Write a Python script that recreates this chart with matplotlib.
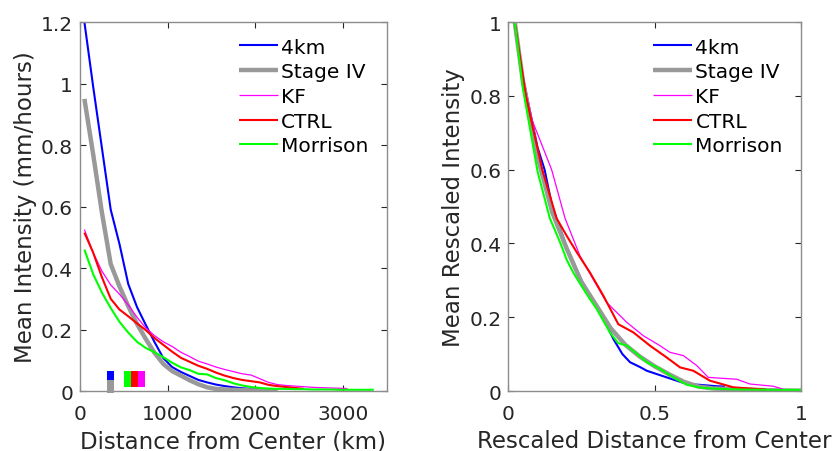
import matplotlib
matplotlib.use("Agg")
import matplotlib.pyplot as plt
from matplotlib.ticker import FuncFormatter

# ---------------- data: left panel (distance in km) ----------------
dist_km = [50, 150, 250, 350, 450, 550, 650, 750, 850, 950, 1050, 1150, 1250, 1350,
           1450, 1550, 1650, 1750, 1850, 1950, 2050, 2150, 2250, 2350, 2450, 2550,
           2650, 2750, 2850, 2950, 3050, 3150, 3250, 3350]

int_4km = [1.20, 0.99, 0.79, 0.59, 0.478, 0.348, 0.273, 0.215, 0.159, 0.107, 0.078,
           0.062, 0.049, 0.036, 0.028, 0.021, 0.016, 0.012, 0.009, 0.007, 0.006, 0.005, 0.004]
int_stage4 = [0.95, 0.77, 0.58, 0.413, 0.34, 0.276, 0.218, 0.169, 0.124, 0.088, 0.065,
              0.05, 0.035, 0.022, 0.012, 0.007, 0.005, 0.004, 0.003, 0.002, 0.002, 0.001, 0.001]
int_kf = [0.525, 0.45, 0.39, 0.345, 0.315, 0.28, 0.24, 0.205, 0.18, 0.16, 0.145, 0.126,
          0.112, 0.097, 0.088, 0.078, 0.070, 0.063, 0.056, 0.052, 0.040, 0.028, 0.021,
          0.018, 0.016, 0.014, 0.012, 0.011, 0.010, 0.009, 0.008]
int_ctrl = [0.515, 0.45, 0.37, 0.30, 0.265, 0.243, 0.22, 0.198, 0.172, 0.15, 0.128, 0.108,
            0.095, 0.082, 0.072, 0.060, 0.050, 0.042, 0.036, 0.032, 0.028, 0.020, 0.016,
            0.013, 0.010, 0.007]
int_morr = [0.46, 0.38, 0.32, 0.27, 0.225, 0.19, 0.16, 0.14, 0.126, 0.11, 0.092, 0.077,
            0.068, 0.056, 0.054, 0.042, 0.035, 0.025, 0.018, 0.013, 0.010, 0.008, 0.007,
            0.007, 0.006, 0.006, 0.005, 0.005, 0.005, 0.004, 0.004, 0.004, 0.004, 0.004]

# small colour markers near the x axis (km, intensity)
mark_x = [351, 351, 541, 621, 701]
mark_bottom = [0.037, -0.0065, 0.013, 0.013, 0.013]
mark_top = [0.065, 0.036, 0.065, 0.065, 0.065]
mark_colors = ["#0000ff", "#999999", "#00ff00", "#ff0000", "#ff00ff"]
mark_width = 80

# ---------------- data: right panel (rescaled) ----------------
r_4km_x = [0.022, 0.05, 0.1, 0.124, 0.15, 0.2, 0.25, 0.3, 0.33, 0.359, 0.39, 0.416, 0.45,
           0.473, 0.541, 0.61, 0.65, 0.712, 0.74]
r_4km_y = [1.0, 0.85, 0.66, 0.6, 0.5, 0.39, 0.3, 0.235, 0.19, 0.141, 0.1, 0.078, 0.065,
           0.055, 0.037, 0.019, 0.017, 0.013, 0.012]
r_st4_x = [0.022, 0.05, 0.1, 0.15, 0.2, 0.25, 0.3, 0.35, 0.4, 0.45, 0.5, 0.55, 0.6, 0.65,
           0.7, 0.8, 0.9, 1.0]
r_st4_y = [1.0, 0.84, 0.635, 0.485, 0.385, 0.295, 0.233, 0.17, 0.125, 0.093, 0.067, 0.045,
           0.025, 0.012, 0.007, 0.004, 0.002, 0.001]
r_kf_x = [0.022, 0.05, 0.08, 0.148, 0.194, 0.245, 0.29, 0.336, 0.405, 0.461, 0.518, 0.552,
          0.598, 0.644, 0.683, 0.72, 0.78, 0.826, 0.905, 0.94]
r_kf_y = [1.0, 0.84, 0.737, 0.6, 0.468, 0.366, 0.303, 0.24, 0.186, 0.15, 0.123, 0.105,
          0.096, 0.069, 0.037, 0.035, 0.032, 0.019, 0.013, 0.005]
r_ctrl_x = [0.022, 0.06, 0.116, 0.165, 0.2, 0.234, 0.279, 0.325, 0.376, 0.427, 0.484, 0.541,
            0.587, 0.632, 0.689, 0.769, 0.86, 0.88]
r_ctrl_y = [1.0, 0.8, 0.6, 0.468, 0.42, 0.376, 0.321, 0.258, 0.181, 0.159, 0.123, 0.091,
            0.064, 0.055, 0.028, 0.010, 0.005, 0.004]
r_morr_x = [0.022, 0.05, 0.1, 0.142, 0.177, 0.2, 0.222, 0.25, 0.279, 0.3, 0.347, 0.375,
            0.405, 0.44, 0.473, 0.518, 0.564, 0.61, 0.65, 0.689, 0.75, 0.8, 0.9, 1.0]
r_morr_y = [1.0, 0.82, 0.595, 0.468, 0.403, 0.355, 0.321, 0.285, 0.249, 0.225, 0.159, 0.13,
            0.123, 0.1, 0.078, 0.06, 0.037, 0.017, 0.010, 0.007, 0.005, 0.004, 0.003, 0.003]

labels = ["4km", "Stage IV", "KF", "CTRL", "Morrison"]
colors = ["#0000ff", "#999999", "#ff00ff", "#ff0000", "#00ff00"]
widths = [1.5, 3.2, 0.9, 1.5, 1.5]

plt.rcParams['font.family'] = ['DejaVu Sans']
FS = 14.5
FL = 16.5
TXT = "#262626"
SP = "#8c8c8c"

fig = plt.figure(figsize=(8.36, 4.52), dpi=100)
axL = fig.add_axes([0.0957, 0.1327, 0.3672, 0.8164])
axR = fig.add_axes([0.608, 0.1327, 0.3501, 0.8164])

left_series = [int_4km, int_stage4, int_kf, int_ctrl, int_morr]
for y, lab, c, w in zip(left_series, labels, colors, widths):
    axL.plot(dist_km[:len(y)], y, color=c, lw=w, label=lab, solid_capstyle='butt')

for xm, b, t, c in zip(mark_x, mark_bottom, mark_top, mark_colors):
    axL.bar(xm, t - b, bottom=b, width=mark_width, color=c, linewidth=0,
            clip_on=False, zorder=5)

right_series = [(r_4km_x, r_4km_y), (r_st4_x, r_st4_y), (r_kf_x, r_kf_y),
                (r_ctrl_x, r_ctrl_y), (r_morr_x, r_morr_y)]
for (x, y), lab, c, w in zip(right_series, labels, colors, widths):
    axR.plot(x, y, color=c, lw=w, label=lab, solid_capstyle='butt')

fmt = FuncFormatter(lambda v, p: ("%g" % round(v, 6)))

axL.set_xlim(0, 3500)
axL.set_ylim(0, 1.2)
axL.set_xticks([0, 1000, 2000, 3000])
axL.set_yticks([0, 0.2, 0.4, 0.6, 0.8, 1.0, 1.2])
axL.set_xlabel("Distance from Center (km)", fontsize=FL, color=TXT, labelpad=5)
axL.set_ylabel("Mean Intensity (mm/hours)", fontsize=FL, color=TXT, labelpad=3)

axR.set_xlim(0, 1)
axR.set_ylim(0, 1)
axR.set_xticks([0, 0.5, 1])
axR.set_yticks([0, 0.2, 0.4, 0.6, 0.8, 1.0])
axR.set_xlabel("Rescaled Distance from Center", fontsize=FL, color=TXT, labelpad=5)
axR.set_ylabel("Mean Rescaled Intensity", fontsize=FL, color=TXT, labelpad=3)

for ax in (axL, axR):
    ax.xaxis.set_major_formatter(fmt)
    ax.yaxis.set_major_formatter(fmt)
    ax.tick_params(direction='in', top=True, right=True, length=4, width=0.8,
                   color="#262626", labelsize=FS, labelcolor=TXT)
    ax.tick_params(axis='x', pad=9)
    ax.tick_params(axis='y', pad=5)
    for s in ax.spines.values():
        s.set_color(SP)
        s.set_linewidth(1.0)
    leg = ax.legend(loc='upper left', frameon=False, fontsize=FS,
                    handlelength=1.95, handletextpad=0.15, labelspacing=0.285,
                    borderpad=0, borderaxespad=0)
    for t in leg.get_texts():
        t.set_color("#000000")

axL.get_legend().set_bbox_to_anchor((0.518, 0.958), transform=axL.transAxes)
axR.get_legend().set_bbox_to_anchor((0.495, 0.958), transform=axR.transAxes)

fig.savefig("out.png", dpi=100)
